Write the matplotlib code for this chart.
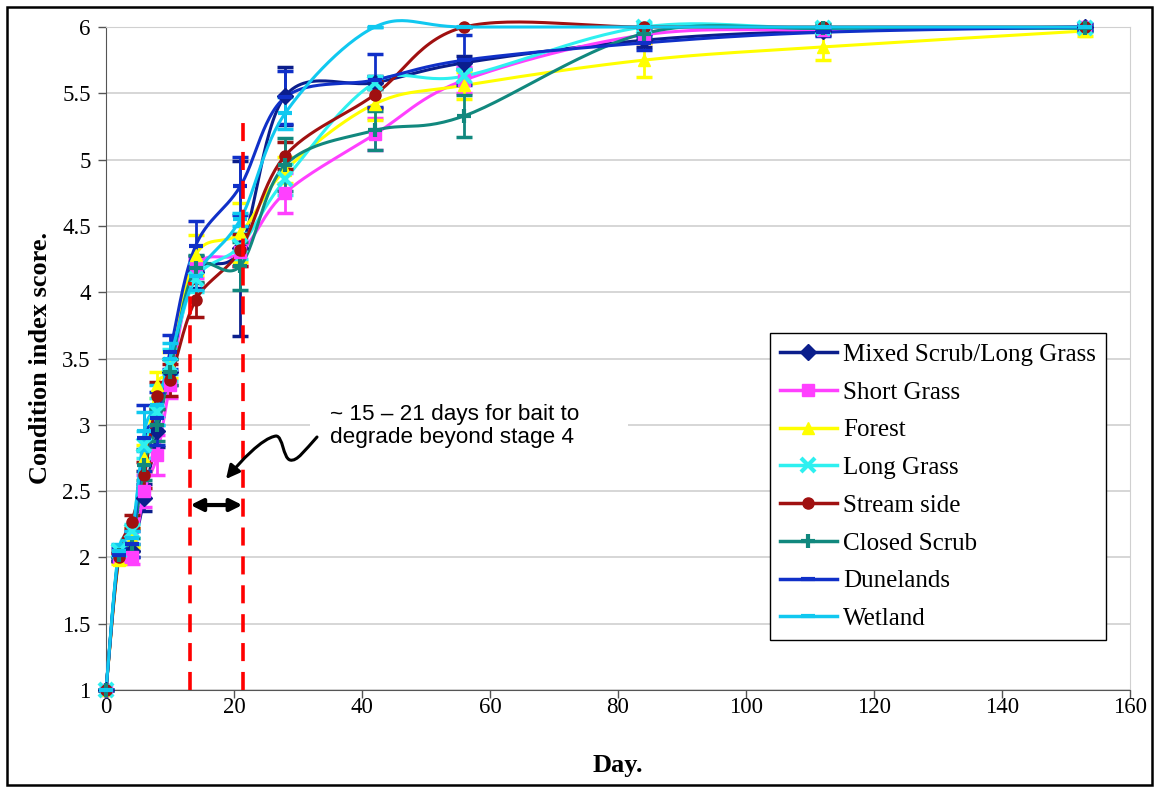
import numpy as np
import matplotlib
matplotlib.use("Agg")
import matplotlib.pyplot as plt
from matplotlib.lines import Line2D
from matplotlib.path import Path
from matplotlib.patches import FancyArrowPatch, Rectangle

plt.rcParams['font.family'] = ['Liberation Serif', 'DejaVu Serif']

# sampling days
days = [0, 2, 4, 6, 8, 10, 14, 21, 28, 42, 56, 84, 112, 153]

# mean condition index score per habitat
mixed_scrub = [1, 2.0, 2.05, 2.45, 2.95, 3.4, 4.15, 4.33, 5.48, 5.58, 5.73, 5.9, 5.97, 6.0]
short_grass = [1, 2.0, 2.0, 2.5, 2.77, 3.3, 4.18, 4.3, 4.75, 5.19, 5.6, 5.94, 5.98, 6.0]
forest = [1, 1.98, 2.15, 2.75, 3.3, 3.45, 4.28, 4.45, 4.92, 5.42, 5.56, 5.75, 5.85, 5.97]
long_grass = [1, 2.05, 2.2, 2.85, 3.1, 3.45, 4.1, 4.35, 4.85, 5.58, 5.63, 6.0, 5.99, 5.99]
stream_side = [1, 2.0, 2.27, 2.62, 3.22, 3.34, 3.94, 4.32, 5.03, 5.49, 6.0, 6.0, 6.0, 6.0]
closed_scrub = [1, 2.02, 2.1, 2.7, 3.0, 3.4, 4.18, 4.2, 4.96, 5.22, 5.33, 5.95, 5.99, 5.99]
dunelands = [1, 2.02, 2.1, 2.9, 3.05, 3.55, 4.35, 4.8, 5.47, 5.6, 5.75, 5.88, 5.96, 6.0]
wetland = [1, 2.05, 2.15, 2.95, 3.15, 3.5, 4.12, 4.55, 5.35, 6.0, 6.0, 6.0, 6.0, 6.0]

# standard deviations
mixed_scrub_sd = [0, 0.03, 0.05, 0.1, 0.12, 0.1, 0.12, 0.66, 0.22, 0.05, 0.05, 0.05, 0.03, 0.02]
short_grass_sd = [0, 0.03, 0.05, 0.12, 0.15, 0.1, 0.07, 0.1, 0.15, 0.12, 0.1, 0.06, 0.03, 0.02]
forest_sd = [0, 0.03, 0.07, 0.1, 0.1, 0.1, 0.15, 0.22, 0.1, 0.12, 0.1, 0.13, 0.1, 0.04]
long_grass_sd = [0, 0.04, 0.05, 0.1, 0.1, 0.12, 0.1, 0.1, 0.12, 0.05, 0.05, 0.03, 0.03, 0.02]
stream_side_sd = [0, 0.03, 0.05, 0.1, 0.1, 0.12, 0.13, 0.12, 0.1, 0.1, 0, 0, 0, 0]
closed_scrub_sd = [0, 0.03, 0.05, 0.12, 0.12, 0.1, 0.1, 0.18, 0.2, 0.15, 0.16, 0.04, 0.03, 0.02]
dunelands_sd = [0, 0.05, 0.1, 0.25, 0.2, 0.13, 0.19, 0.22, 0.2, 0.2, 0.19, 0.05, 0.03, 0.02]
wetland_sd = [0, 0.05, 0.05, 0.15, 0.15, 0.12, 0.1, 0.05, 0.12, 0, 0, 0, 0, 0]

labels = ['Mixed Scrub/Long Grass', 'Short Grass', 'Forest', 'Long Grass',
          'Stream side', 'Closed Scrub', 'Dunelands', 'Wetland']
series = [mixed_scrub, short_grass, forest, long_grass,
          stream_side, closed_scrub, dunelands, wetland]
errors = [mixed_scrub_sd, short_grass_sd, forest_sd, long_grass_sd,
          stream_side_sd, closed_scrub_sd, dunelands_sd, wetland_sd]
colors = ['#0B1E8C', '#FF40FF', '#FFFF00', '#2EF0F0',
          '#A01010', '#11887E', '#1030C8', '#10C8F0']
markers = ['D', 's', '^', 'x', 'o', '+', '_', '_']


def smooth(x, y, n=30):
    # excel-style smoothed line: cubic bezier with catmull-rom control points
    p = np.column_stack([x, y]).astype(float)
    out = []
    for i in range(len(p) - 1):
        p0 = p[i - 1] if i > 0 else p[i]
        p1, p2 = p[i], p[i + 1]
        p3 = p[i + 2] if i + 2 < len(p) else p[i + 1]
        c1 = p1 + (p2 - p0) / 6
        c2 = p2 - (p3 - p1) / 6
        t = np.linspace(0, 1, n)[:, None]
        seg = ((1 - t) ** 3 * p1 + 3 * (1 - t) ** 2 * t * c1
               + 3 * (1 - t) * t ** 2 * c2 + t ** 3 * p2)
        out.append(seg if i == 0 else seg[1:])
    out = np.vstack(out)
    return out[:, 0], out[:, 1]


fig = plt.figure(figsize=(11.55, 7.87), dpi=100)
ax = fig.add_axes([106 / 1155, 1 - 690 / 787, 1024 / 1155, 663 / 787])

for vals, err, col, mk in zip(series, errors, colors, markers):
    sx, sy = smooth(days, vals)
    ax.plot(sx, sy, color=col, lw=2.2, zorder=3, solid_capstyle='round',
            clip_on=False)
    eb = ax.errorbar(days, vals, yerr=err, fmt='none', ecolor=col, elinewidth=2,
                     capsize=6, capthick=2.5, zorder=3)
    for art in eb.lines[1] + eb.lines[2]:
        art.set_clip_on(False)
    mew = 3 if mk in ('x', '+', '_') else 1
    ms = 10 if mk in ('x', '+', '_') else 8
    ax.plot(days, vals, ls='none', marker=mk, color=col, markersize=ms,
            markeredgewidth=mew, zorder=4, clip_on=False)

# window for bait degradation
ax.plot([13.1, 13.1], [1, 4.08], color='red', lw=2.6, dashes=(5, 3), zorder=5)
ax.plot([21.4, 21.4], [1, 5.28], color='red', lw=2.6, dashes=(5, 3), zorder=5)
ax.annotate('', xy=(13.2, 2.395), xytext=(21.3, 2.395),
            arrowprops=dict(arrowstyle='<|-|>', color='black', lw=3,
                            mutation_scale=18, shrinkA=0, shrinkB=0), zorder=6)


def to_data(px, py):
    return (px - 106) / 6.4, 1 + (690 - py) / 132.6


verts = [(317, 437), (305, 450), (297, 462), (290, 460),
         (283, 458), (283, 436), (276, 436),
         (262, 438), (240, 462), (226, 479)]
verts = [to_data(*v) for v in verts]
codes = [Path.MOVETO] + [Path.CURVE4] * 9
squiggle = FancyArrowPatch(path=Path(verts, codes), arrowstyle='-|>',
                           mutation_scale=20, lw=2.2, color='black', zorder=6)
ax.add_patch(squiggle)

# white panel behind the note
(bx0, by0), (bx1, by1) = to_data(310, 455), to_data(628, 397)
ax.add_patch(Rectangle((bx0, by0), bx1 - bx0, by1 - by0, fc='white', ec='none',
                       zorder=2))
ax.text(35.0, 2.99, '~ 15 – 21 days for bait to\ndegrade beyond stage 4',
        fontsize=16.2, family=['Liberation Sans', 'DejaVu Sans'],
        ha='left', va='center', linespacing=1.12, zorder=5)

ax.set_xlim(0, 160)
ax.set_ylim(1, 6)
ax.set_xticks(range(0, 161, 20))
ax.set_yticks(np.arange(1, 6.01, 0.5))
ax.set_yticklabels(['1', '1.5', '2', '2.5', '3', '3.5', '4', '4.5', '5', '5.5', '6'])
ax.tick_params(axis='both', labelsize=16.5, length=6, width=1, color='#555555',
               direction='out')
ax.tick_params(axis='x', pad=-1)
ax.tick_params(axis='y', pad=5)
ax.grid(axis='y', color='#D0D0D0', lw=1.2)
ax.set_axisbelow(True)
for s in ['top', 'right']:
    ax.spines[s].set_color('#D0D0D0')
for s in ['left', 'bottom']:
    ax.spines[s].set_color('#555555')

ax.set_xlabel('Day.', fontsize=19, fontweight='bold', labelpad=26)
ax.set_ylabel('Condition index score.', fontsize=19, fontweight='bold', labelpad=7)

handles = []
for col, mk in zip(colors, markers):
    mew = 3 if mk in ('x', '+', '_') else 1
    ms = 10 if mk in ('x', '+', '_') else 8
    handles.append(Line2D([], [], color=col, lw=2.5, marker=mk, markersize=ms,
                          markeredgewidth=mew))
leg = ax.legend(handles, labels, loc='upper left', bbox_to_anchor=(0.648, 0.538),
                fontsize=18, frameon=True, fancybox=False, framealpha=1,
                edgecolor='black', handlelength=2.3, labelspacing=0.61,
                borderpad=0.4, handletextpad=0.25, borderaxespad=0)
leg.get_frame().set_linewidth(1.0)
leg.set_zorder(10)

fig.patches.append(Rectangle((7 / 1155, 2 / 787), 1145 / 1155, 778 / 787,
                             transform=fig.transFigure, fill=False,
                             ec='black', lw=1.8))

fig.savefig('out.png', dpi=100)
